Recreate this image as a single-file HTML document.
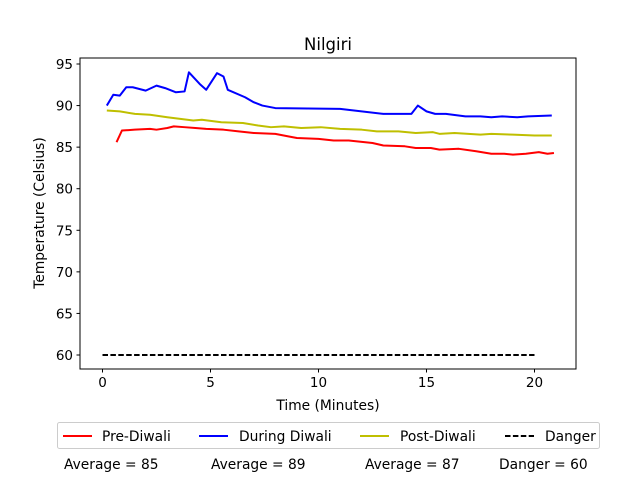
<!DOCTYPE html>
<html><head><meta charset="utf-8"><style>body{margin:0;background:#fff}svg{display:block;font-family:"DejaVu Sans","Liberation Sans",sans-serif}</style></head>
<body>
<svg id="chart" width="640" height="480" viewBox="0 0 640 480">
<rect width="640" height="480" fill="#fff"/>
<text x="328" y="50" font-size="16.5" text-anchor="middle">Nilgiri</text>
<g id="plot"></g>
<rect x="80" y="58" width="496" height="311" fill="none" stroke="#000" stroke-width="1"/>
<text x="328" y="410" font-size="13.8" text-anchor="middle">Time (Minutes)</text>
<text transform="translate(44,213) rotate(-90)" font-size="13.8" text-anchor="middle">Temperature (Celsius)</text>
<g>
<rect x="57.5" y="422.5" width="542" height="26" rx="2" fill="#fff" stroke="#ccc"/>
<line x1="63" y1="436" x2="92" y2="436" stroke="#f00" stroke-width="2"/><text x="102" y="441" font-size="13.8">Pre-Diwali</text>
<line x1="199" y1="436" x2="228" y2="436" stroke="#00f" stroke-width="2"/><text x="239" y="441" font-size="13.8">During Diwali</text>
<line x1="360" y1="436" x2="389" y2="436" stroke="#bfbf00" stroke-width="2"/><text x="400" y="441" font-size="13.8">Post-Diwali</text>
<line x1="505" y1="436" x2="534" y2="436" stroke="#000" stroke-width="2" stroke-dasharray="5.5,2.4"/><text x="545" y="441" font-size="13.8">Danger</text>
</g>
<text x="64" y="469" font-size="13.8">Average = 85</text>
<text x="211" y="469" font-size="13.8">Average = 89</text>
<text x="365" y="469" font-size="13.8">Average = 87</text>
<text x="499" y="469" font-size="13.8">Danger = 60</text>
</svg>
<script>
const xTicks=[0,5,10,15,20];
const yTicks=[60,65,70,75,80,85,90,95];
const preX=[0.65,0.9,1.5,2.2,2.5,3,3.3,3.8,4.3,4.8,5.6,6.3,7,8,8.6,9,10,10.7,11.4,12.5,13,14,14.5,15.2,15.6,16.5,17.3,18,18.6,19,19.6,20.2,20.6,20.9];
const preY=[85.6,87,87.1,87.2,87.1,87.3,87.5,87.4,87.3,87.2,87.1,86.9,86.7,86.6,86.3,86.1,86.0,85.8,85.8,85.5,85.2,85.1,84.9,84.9,84.7,84.8,84.5,84.2,84.2,84.1,84.2,84.4,84.2,84.3];
const durX=[0.2,0.5,0.8,1.1,1.4,2.0,2.5,2.9,3.4,3.8,4.0,4.5,4.8,5.3,5.6,5.8,6.6,7.0,7.4,8.0,11,13,14.3,14.6,15,15.4,15.9,16.8,17.5,18,18.5,19.2,19.7,20.8];
const durY=[90,91.3,91.2,92.2,92.2,91.8,92.4,92.1,91.6,91.7,94,92.6,91.9,93.9,93.5,91.9,91,90.4,90,89.7,89.6,89,89,90,89.3,89,89,88.7,88.7,88.6,88.7,88.6,88.7,88.8];
const postX=[0.2,0.8,1.5,2.2,3,3.6,4.2,4.6,5.5,6.5,7.2,7.8,8.4,9.2,10.1,11,12,12.7,13.7,14.5,15.3,15.6,16.3,17.5,18,19,20,20.8];
const postY=[89.4,89.3,89.0,88.9,88.6,88.4,88.2,88.3,88.0,87.9,87.6,87.4,87.5,87.3,87.4,87.2,87.1,86.9,86.9,86.7,86.8,86.6,86.7,86.5,86.6,86.5,86.4,86.4];
const dangerX=[0,20];
const dangerY=[60,60];
const sx=v=>102.5+v*21.6;
const sy=v=>355-(v-60)*(291/35);
const NS='http://www.w3.org/2000/svg';
const g=document.getElementById('plot');
function mk(t,a){const e=document.createElementNS(NS,t);for(const k in a)e.setAttribute(k,a[k]);g.appendChild(e);return e;}
xTicks.forEach(t=>{
 const l=mk('line',{x1:sx(t),x2:sx(t),y1:369,y2:372.5,stroke:'#000'});
 
 
 const tx=mk('text',{x:sx(t),y:387,'font-size':13.5,'text-anchor':'middle'});tx.textContent=t;
 
 
});
yTicks.forEach(t=>{
 const l=mk('line',{x1:76.5,x2:80,y1:sy(t),y2:sy(t),stroke:'#000'});
 
 
 const tx=mk('text',{x:73,y:sy(t)+5,'font-size':13.5,'text-anchor':'end'});tx.textContent=t;
 
 
});
function line(xs,ys,color,name,dash){
 const p=mk('polyline',{points:xs.map((x,i)=>sx(x)+','+sy(ys[i])).join(' '),fill:'none',stroke:color,'stroke-width':2,'stroke-linejoin':'round'});
 if(dash)p.setAttribute('stroke-dasharray',dash);
 
 
}
line(preX,preY,'#f00','pre-diwali-line');
line(durX,durY,'#00f','during-diwali-line');
line(postX,postY,'#bfbf00','post-diwali-line');
line(dangerX,dangerY,'#000','danger-line','5.5,2.4');
</script>
</body></html>
